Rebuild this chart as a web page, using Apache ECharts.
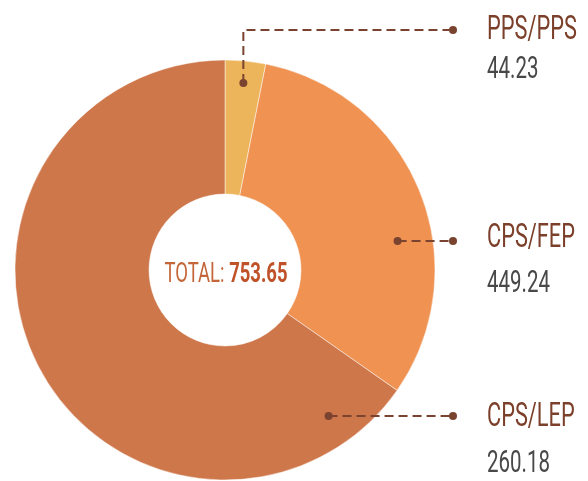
<!DOCTYPE html>
<html>
<head>
<meta charset="utf-8">
<script src="https://cdn.jsdelivr.net/npm/echarts@6/dist/echarts.min.js"></script>
<style>
  html, body { margin: 0; padding: 0; background: #fff; }
  #chart { width: 588px; height: 481px; }
</style>
</head>
<body>
<div id="chart"></div>
<script>
// slice names and the values printed next to them
var names = ['PPS/PPS', 'CPS/FEP', 'CPS/LEP']
var labelValues = [44.23, 449.24, 260.18]
// slice sizes (the last slice is much larger than its printed value)
var sliceValues = [44.23, 449.24, 928]
var colors = ['#EDB55B', '#EF9252', '#CE774A']

var FONT = 'Roboto, "Noto Sans", sans-serif'
// the original font is a very narrow one, so text gets squeezed sideways
var SQUEEZE = 0.66
var cx = 225
var cy = 270
var rIn = 76
var rOut = 210
var lineColor = '#7A4330'
// leader line heights, radius of the inner dot, label rows
var leaderY = [30, 241, 416]
var dotR = [188, 175, 179]
var nameY = [31, 239, 418]
var valueY = [70, 284, 464]
var labelX = 487
var endX = 453

var total = labelValues.reduce(function (a, b) { return a + b }, 0)
var sliceSum = sliceValues.reduce(function (a, b) { return a + b }, 0)

// inner dot of each leader line
function innerPoint (i) {
  if (i === 0) {
    // first slice: dot in the middle of the slice, line goes up then right
    var mid = (sliceValues[0] / sliceSum / 2) * 2 * Math.PI
    return [cx + dotR[0] * Math.sin(mid), cy - dotR[0] * Math.cos(mid)]
  }
  var dy = leaderY[i] - cy
  return [cx + Math.sqrt(dotR[i] * dotR[i] - dy * dy), leaderY[i]]
}

function linePoints (i) {
  var p = innerPoint(i)
  if (i === 0) {
    return [p, [p[0], leaderY[0]], [endX, leaderY[0]]]
  }
  return [p, [endX, leaderY[i]]]
}

var marks = []
for (var i = 0; i < names.length; i++) {
  var p = innerPoint(i)
  marks.push({
    type: 'polyline',
    z: 100,
    shape: { points: linePoints(i) },
    style: { stroke: lineColor, lineWidth: 2, lineDash: [9, 5], fill: null }
  })
  marks.push({ type: 'circle', z: 101, shape: { cx: p[0], cy: p[1], r: 4 }, style: { fill: lineColor } })
  marks.push({ type: 'circle', z: 101, shape: { cx: endX, cy: leaderY[i], r: 4 }, style: { fill: lineColor } })
  marks.push({
    type: 'text',
    z: 100,
    x: labelX,
    y: nameY[i],
    scaleX: SQUEEZE,
    style: {
      text: names[i],
      fontFamily: FONT,
      fontSize: 33,
      fill: '#7B3F2A',
      align: 'left',
      verticalAlign: 'middle'
    }
  })
  marks.push({
    type: 'text',
    z: 100,
    x: labelX,
    y: valueY[i],
    scaleX: SQUEEZE,
    style: {
      text: labelValues[i].toFixed(2),
      fontFamily: FONT,
      fontSize: 31,
      fill: '#484848',
      align: 'left',
      verticalAlign: 'middle'
    }
  })
}

// total in the hole
marks.push({
  type: 'text',
  z: 100,
  x: cx + 1,
  y: cy + 5,
  scaleX: SQUEEZE,
  style: {
    text: '{t|TOTAL: }{b|' + total.toFixed(2) + '}',
    align: 'center',
    verticalAlign: 'middle',
    rich: {
      t: { fontFamily: FONT, fontSize: 28, fill: '#C4663A' },
      b: { fontFamily: FONT, fontSize: 28, fontWeight: 'bold', fill: '#BF5229' }
    }
  }
})

var option = {
  animation: false,
  backgroundColor: '#fff',
  color: colors,
  series: [
    {
      type: 'pie',
      center: [cx, cy],
      radius: [rIn, rOut],
      startAngle: 90,
      clockwise: true,
      itemStyle: { borderColor: 'rgba(255,255,255,0.6)', borderWidth: 0.8 },
      emphasis: { disabled: true },
      label: { show: false },
      labelLine: { show: false },
      data: names.map(function (n, i) {
        return { name: n, value: sliceValues[i] }
      })
    }
  ],
  graphic: marks
}

var myChart = echarts.init(document.getElementById('chart'))
myChart.setOption(option)
</script>
</body>
</html>
